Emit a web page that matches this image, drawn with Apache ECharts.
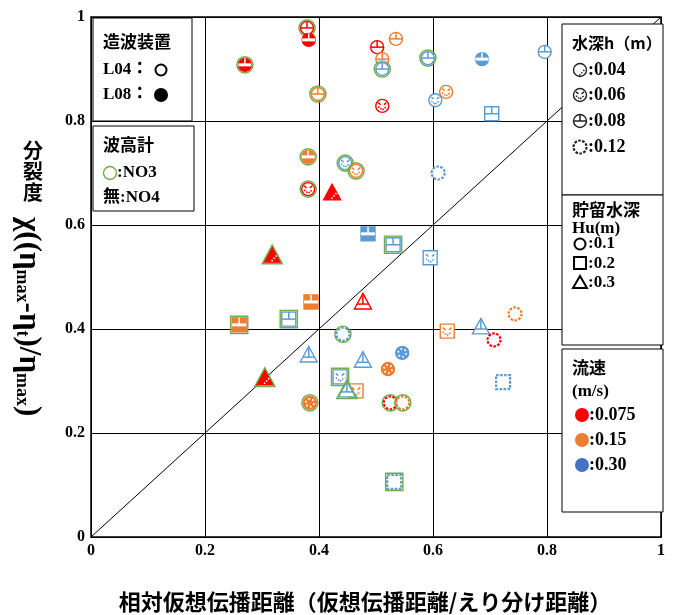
<!DOCTYPE html>
<html><head><meta charset="utf-8">
<script src="https://cdn.jsdelivr.net/npm/echarts@6/dist/echarts.min.js"></script>
<style>html,body{margin:0;padding:0;background:#fff}#c{width:682px;height:615px}</style>
</head><body><div id="c"></div><script>
// ---- data ----
const xs = [0.270,0.379,0.382,0.398,0.502,0.535,0.511,0.511,0.591,0.686,0.796,0.511,0.604,0.623,0.703,
            0.381,0.446,0.465,0.381,0.423,0.609,0.486,0.530,0.595,0.318,0.386,0.477,0.347,0.260,0.442,
            0.382,0.477,0.546,0.521,0.305,0.437,0.465,0.449,0.384,0.525,0.547,0.625,0.684,0.707,0.744,
            0.723,0.532];
const ys = [0.908,0.979,0.956,0.852,0.942,0.958,0.919,0.900,0.921,0.919,0.933,0.829,0.840,0.856,0.814,
            0.731,0.719,0.704,0.669,0.662,0.700,0.583,0.562,0.537,0.542,0.452,0.452,0.419,0.408,0.390,
            0.350,0.340,0.354,0.323,0.306,0.308,0.281,0.283,0.258,0.258,0.258,0.396,0.404,0.379,0.429,
            0.298,0.106];
// stored water depth Hu (m): 0.1 circle, 0.2 square, 0.3 triangle
const huDepth = [0.1,0.1,0.1,0.1,0.1,0.1,0.1,0.1,0.1,0.1,0.1,0.1,0.1,0.1,0.2,
                 0.1,0.1,0.1,0.1,0.3,0.1,0.2,0.2,0.2,0.3,0.2,0.3,0.2,0.2,0.1,
                 0.3,0.3,0.1,0.1,0.3,0.2,0.2,0.3,0.1,0.1,0.1,0.2,0.3,0.1,0.1,
                 0.2,0.2];
// water depth h (m)
const hDepth = [0.08,0.08,0.08,0.08,0.08,0.08,0.08,0.08,0.08,0.08,0.08,0.06,0.06,0.06,0.08,
                0.08,0.06,0.06,0.06,0.04,0.12,0.08,0.08,0.06,0.04,0.08,0.08,0.08,0.08,0.12,
                0.08,0.08,0.12,0.12,0.04,0.06,0.06,0.08,0.12,0.12,0.12,0.06,0.08,0.12,0.12,
                0.12,0.12];
// flow velocity (m/s)
const speed = [0.075,0.075,0.075,0.15,0.075,0.15,0.15,0.30,0.30,0.30,0.30,0.075,0.30,0.15,0.30,
               0.15,0.30,0.15,0.075,0.075,0.30,0.30,0.30,0.30,0.075,0.15,0.075,0.30,0.15,0.30,
               0.30,0.30,0.30,0.15,0.075,0.30,0.15,0.30,0.15,0.075,0.15,0.15,0.30,0.075,0.15,
               0.30,0.30];
// wave maker
const device = ['L08','L04','L08','L04','L04','L04','L04','L04','L04','L08','L04','L04','L04','L04','L04',
                'L08','L04','L04','L04','L08','L04','L08','L04','L04','L08','L08','L04','L04','L08','L04',
                'L04','L04','L08','L08','L08','L04','L04','L04','L08','L04','L04','L04','L04','L04','L04',
                'L04','L04'];
// wave gauge
const gauge = ['NO3','NO3','NO4','NO3','NO4','NO4','NO4','NO3','NO3','NO4','NO4','NO4','NO4','NO4','NO4',
               'NO3','NO3','NO3','NO3','NO4','NO4','NO4','NO3','NO4','NO3','NO4','NO4','NO3','NO3','NO3',
               'NO4','NO4','NO4','NO4','NO3','NO3','NO4','NO3','NO3','NO3','NO3','NO4','NO4','NO4','NO4',
               'NO4','NO3'];
const axisTicks = [0, 0.2, 0.4, 0.6, 0.8, 1];

// ---- visual mapping ----
const SPEED_COLOR = {0.075:'#FF0000', 0.15:'#ED7D31', 0.3:'#5B9BD5'};
const LEGEND_SPEED_COLOR = ['#FF0000', '#ED7D31', '#4472C4'];
const GREEN = '#70AD47';
const SERIF = "'Liberation Serif','Times New Roman','Noto Sans CJK JP',serif";
const CJK = "'Noto Sans CJK JP','Liberation Serif',sans-serif";

function shapeOf(hu){ return hu === 0.1 ? 'c' : (hu === 0.2 ? 's' : 't'); }
function halfW(shp, r, y){
  if (shp === 'c') return Math.sqrt(Math.max(0, r*r - y*y));
  if (shp === 's') return r;
  const R = r + 1.5;
  return Math.max(0, (y + R) / (r + R) * R);
}
function baseShape(shp, r){
  if (shp === 'c') return {type:'circle', shape:{cx:0, cy:0, r:r}};
  if (shp === 's') return {type:'rect', shape:{x:-r, y:-r, width:2*r, height:2*r}};
  const R = r + 1.5;
  return {type:'polygon', shape:{points:[[0,-R],[R,r],[-R,r]]}};
}
function buildMarker(shp, h, col, filled, green, rr){
  const r = rr || (shp === 'c' ? 6.5 : 7);
  const els = [];
  const fg = filled ? '#fff' : col;
  const base = baseShape(shp, r);
  if (h === 0.12 && !filled) {
    base.style = {fill:'#fff', stroke:col, lineWidth:2.2, lineDash:[2.6,1.4]};
  } else {
    base.style = {fill: filled ? col : '#fff', stroke: col, lineWidth: 1.4};
  }
  els.push(base);
  const top = shp === 't' ? -(r + 1.5) : -r;
  if (h === 0.08) {
    const by = shp === 't' ? r * 0.3 : 0;
    const w = halfW(shp, r, by);
    els.push({type:'rect', shape:{x:-w, y:by - (filled ? 1.5 : 0.75), width:2*w, height: filled ? 3 : 1.5}, style:{fill:fg}});
    els.push({type:'line', shape:{x1:0, y1:top, x2:0, y2:by}, style:{stroke:fg, lineWidth:1.5, fill:'none'}});
  } else if (h === 0.06) {
    const k = r;
    els.push({type:'polyline', shape:{points:[[-0.62*k,-0.5*k],[-0.25*k,-0.18*k]]}, style:{stroke:fg, lineWidth:1.5, fill:'none'}});
    els.push({type:'polyline', shape:{points:[[0.62*k,-0.5*k],[0.25*k,-0.18*k]]}, style:{stroke:fg, lineWidth:1.5, fill:'none'}});
    els.push({type:'polyline', shape:{points:[[-0.62*k,0.12*k],[0,0.62*k],[0.62*k,0.12*k]]}, style:{stroke:fg, lineWidth:1.5, lineDash:[1.6,1.1], fill:'none'}});
  } else if (h === 0.12) {
    if (filled) {
      for (let i = 0; i < 6; i++) {
        const a = i * Math.PI / 3 + 0.3;
        els.push({type:'circle', shape:{cx:Math.cos(a)*r*0.62, cy:Math.sin(a)*r*0.62, r:1}, style:{fill:'#fff'}});
      }
    }
  } else if (h === 0.04) {
    els.push({type:'line', shape:{x1:-0.1*r, y1:0.85*r, x2:0.75*r, y2:-0.1*r}, style:{stroke:fg, lineWidth:1.6, lineDash:[1.5,1.5], fill:'none'}});
  }
  if (green) {
    const g = baseShape(shp, r + 1.6);
    g.style = {fill:'none', stroke:GREEN, lineWidth:1.4};
    els.push(g);
  }
  return els;
}

const pts = xs.map((x, i) => [x, ys[i], i]);

// ---- legend / annotation graphics ----
const graphics = [];
function box(x, y, w, h){ graphics.push({type:'rect', z:100, shape:{x:x, y:y, width:w, height:h}, style:{fill:'#fff', stroke:'#000', lineWidth:1}}); }
function txt(x, y, text, font, extra){
  const st = Object.assign({text:text, font:font, fill:'#000', textAlign:'left', textVerticalAlign:'middle'}, extra || {});
  graphics.push({type:'text', z:101, x:x, y:y, style:st});
}
function sym(el){ el.z = 101; graphics.push(el); }
// box 1: wave maker
box(93, 18, 99, 103);
txt(103, 42, '造波装置', 'bold 17px ' + CJK);
txt(103, 70, 'L04：', 'bold 17px ' + SERIF);
txt(103, 95, 'L08：', 'bold 17px ' + SERIF);
sym({type:'circle', shape:{cx:161, cy:70, r:5.5}, style:{fill:'#fff', stroke:'#000', lineWidth:2}});
sym({type:'circle', shape:{cx:161, cy:95, r:7}, style:{fill:'#000'}});
// box 2: wave gauge
box(93, 126, 101, 85);
txt(103, 145, '波高計', 'bold 17px ' + CJK);
sym({type:'circle', shape:{cx:110, cy:173, r:6.5}, style:{fill:'#fff', stroke:GREEN, lineWidth:1.4}});
txt(117, 173, ':NO3', 'bold 17px ' + SERIF);
txt(103, 198, '無:NO4', 'bold 17px ' + SERIF);
// box 3: water depth h
box(562, 24, 101, 171);
txt(572, 43, '水深h（m）', 'bold 16px ' + CJK);
const hLegend = [0.04, 0.06, 0.08, 0.12];
const hLegendY = [70, 95, 121, 147];
hLegend.forEach((hv, i) => {
  graphics.push({type:'group', z:101, x:580, y:hLegendY[i], children: buildMarker('c', hv, '#222', false, false, 6.5).map(e => Object.assign(e, {z:101}))});
  txt(588, hLegendY[i], ':' + hv.toFixed(2), 'bold 18px ' + SERIF);
});
// box 4: stored depth Hu
box(562, 195, 101, 150);
txt(572, 210, '貯留水深', 'bold 17px ' + CJK);
txt(572, 229, 'Hu(m)', 'bold 17px ' + SERIF);
const huLegend = [0.1, 0.2, 0.3];
sym({type:'circle', shape:{cx:580, cy:244, r:5.5}, style:{fill:'#fff', stroke:'#000', lineWidth:2}});
sym({type:'rect', shape:{x:574, y:257, width:12, height:12}, style:{fill:'#fff', stroke:'#000', lineWidth:2}});
sym({type:'polygon', shape:{points:[[580,276],[587,288],[573,288]]}, style:{fill:'#fff', stroke:'#000', lineWidth:2}});
huLegend.forEach((hv, i) => { txt(588, 244 + i*19.5, ':' + hv, 'bold 17px ' + SERIF); });
// box 5: flow velocity
box(562, 349, 101, 163);
txt(572, 368, '流速', 'bold 17px ' + CJK);
txt(572, 392, '(m/s)', 'bold 17px ' + SERIF);
const spLegend = ['0.075', '0.15', '0.30'];
spLegend.forEach((s, i) => {
  graphics.push({type:'circle', z:101, shape:{cx:582, cy:415 + i*25, r:7}, style:{fill:LEGEND_SPEED_COLOR[i]}});
  txt(589, 415 + i*25, ':' + s, 'bold 18px ' + SERIF);
});
// axis titles
graphics.push({type:'text', z:101, x:365, y:602, style:{text:'相対仮想伝播距離（仮想伝播距離/えり分け距離）', font:'bold 22px ' + CJK, fill:'#000', textAlign:'center', textVerticalAlign:'middle'}});
['分','裂','度'].forEach((c, i) => {
  graphics.push({type:'text', z:101, x:33, y:150 + i*21, style:{text:c, font:'bold 20px ' + CJK, fill:'#000', textAlign:'center', textVerticalAlign:'middle'}});
});
graphics.push({type:'text', z:101, x:28, y:217, rotation:-Math.PI/2, style:{
  text:'{m|χ((η}{s|max}{m|-η}{s|t}{m|)/η}{s|max}{m|)}',
  textAlign:'left', textVerticalAlign:'middle',
  rich:{
    m:{font:'bold 31px ' + SERIF, fill:'#000', lineHeight:30, verticalAlign:'middle'},
    s:{font:'bold 18px ' + SERIF, fill:'#000', lineHeight:14, verticalAlign:'bottom'}
  }}});

const chart = echarts.init(document.getElementById('c'), null, {renderer:'canvas'});
const axisCommon = {
  type:'value', min:axisTicks[0], max:axisTicks[axisTicks.length-1], interval:0.2,
  axisLine:{show:true, lineStyle:{color:'#000', width:1}},
  axisTick:{show:false},
  splitLine:{show:true, lineStyle:{color:'#000', width:1}},
  axisLabel:{fontFamily:SERIF, fontWeight:'bold', fontSize:16, color:'#000', margin:6,
    formatter: v => (v === 0 || v === 1) ? String(v) : v.toFixed(1)}
};
chart.setOption({
  animation:false,
  backgroundColor:'#fff',
  grid:{left:91, right:21, top:17, bottom:78, show:true, borderColor:'#000', borderWidth:1.5, backgroundColor:'transparent'},
  xAxis:Object.assign({}, axisCommon),
  yAxis:Object.assign({}, axisCommon),
  series:[
    {type:'line', data:[[0,0],[1,1]], symbol:'none', lineStyle:{color:'#000', width:1}, z:2, silent:true},
    {type:'custom', data:pts, z:5, clip:false, encode:{x:0, y:1},
      renderItem:(params, api) => {
        const i = api.value(2);
        const p = api.coord([api.value(0), api.value(1)]);
        return {type:'group', x:p[0], y:p[1],
          children: buildMarker(shapeOf(huDepth[i]), hDepth[i], SPEED_COLOR[speed[i]], device[i] === 'L08', gauge[i] === 'NO3')};
      }}
  ],
  graphic:graphics
});
</script></body></html>
